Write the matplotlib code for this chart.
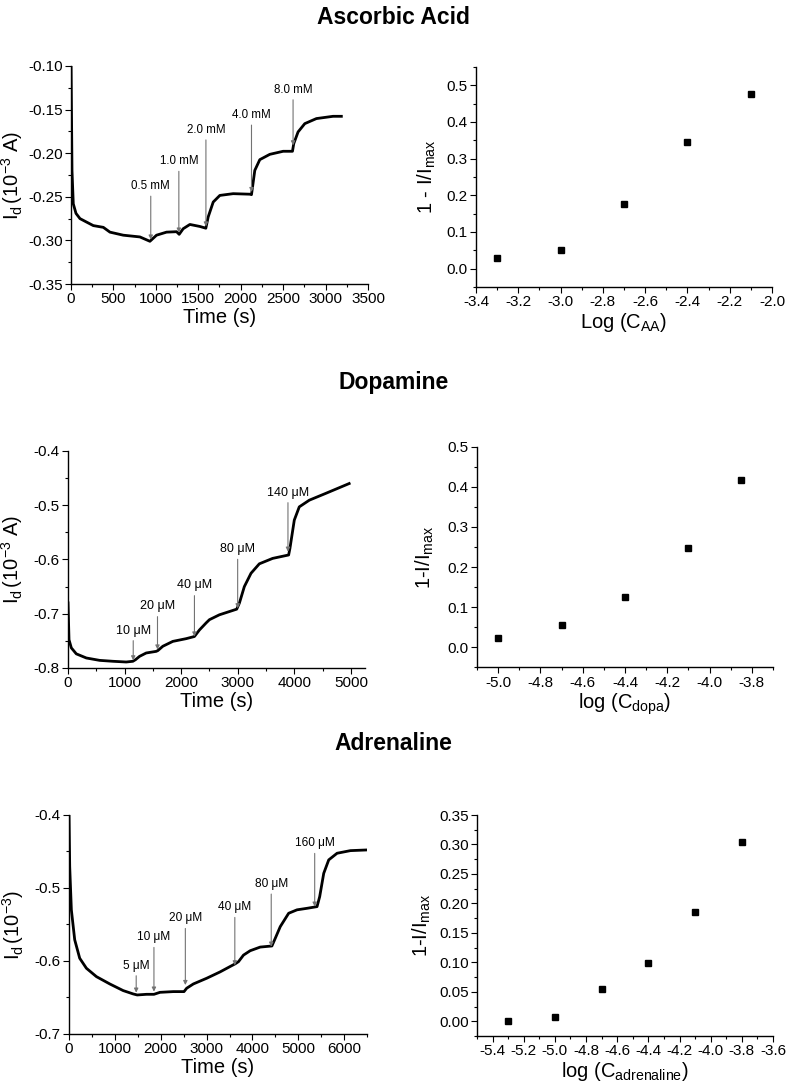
import matplotlib
matplotlib.use("Agg")
import matplotlib.pyplot as plt
from matplotlib.ticker import MultipleLocator, FormatStrFormatter

plt.rcParams["font.family"] = ["Liberation Sans", "DejaVu Sans"]
plt.rcParams["mathtext.fontset"] = "custom"
plt.rcParams["mathtext.rm"] = "Liberation Sans"
plt.rcParams["mathtext.it"] = "Liberation Sans:italic"

# --- Ascorbic acid: chronoamperometry trace ---
aa_time = [0, 12, 27, 59, 106, 184, 263, 381, 459, 616, 812, 930, 1008, 1126, 1244,
           1275, 1322, 1401, 1519, 1589, 1617, 1676, 1754, 1911, 2107, 2127, 2166,
           2225, 2343, 2500, 2610, 2625, 2676, 2755, 2892, 3088, 3186]
aa_current = [-0.09, -0.220, -0.258, -0.269, -0.275, -0.279, -0.283, -0.285, -0.2905,
              -0.294, -0.296, -0.301, -0.294, -0.2905, -0.290, -0.293, -0.2866, -0.2817,
              -0.284, -0.286, -0.273, -0.256, -0.2484, -0.2464, -0.247, -0.2475, -0.2197,
              -0.2074, -0.2013, -0.1978, -0.1978, -0.189, -0.1756, -0.1661, -0.1603,
              -0.1577, -0.1577]
aa_add_labels = ["0.5 mM", "1.0 mM", "2.0 mM", "4.0 mM", "8.0 mM"]
aa_add_time = [940, 1271, 1590, 2127, 2617]
aa_add_top = [-0.2445, -0.216, -0.180, -0.163, -0.134]
aa_add_tip = [-0.299, -0.291, -0.284, -0.2445, -0.191]

# --- Ascorbic acid: response vs log concentration ---
aa_logc = [-3.3, -3.0, -2.7, -2.4, -2.1]
aa_resp = [0.030, 0.050, 0.176, 0.344, 0.476]

# --- Dopamine ---
da_time = [0, 18, 59, 147, 324, 559, 794, 1029, 1147, 1194, 1265, 1382, 1559, 1588,
           1676, 1853, 2088, 2235, 2323, 2441, 2500, 2676, 2853, 2982, 3029, 3117,
           3235, 3382, 3617, 3900, 3923, 4000, 4088, 4265, 4559, 4970]
da_current = [-0.68, -0.748, -0.763, -0.774, -0.7816, -0.786, -0.7877, -0.789, -0.7877,
              -0.7847, -0.7786, -0.7724, -0.7694, -0.768, -0.760, -0.751, -0.746, -0.742,
              -0.730, -0.717, -0.711, -0.702, -0.696, -0.6916, -0.6806, -0.650, -0.6254,
              -0.608, -0.598, -0.5917, -0.5795, -0.5274, -0.503, -0.4907, -0.478, -0.460]
da_add_labels = ["10 μM", "20 μM", "40 μM", "80 μM", "140 μM"]
da_add_time = [1153, 1582, 2235, 2999, 3888]
da_add_top = [-0.742, -0.6977, -0.659, -0.592, -0.4876]
da_add_tip = [-0.786, -0.766, -0.742, -0.690, -0.5856]

da_logc = [-5.0, -4.7, -4.4, -4.1, -3.85]
da_resp = [0.022, 0.055, 0.126, 0.248, 0.416]

# --- Adrenaline ---
ad_time = [0, 15, 51, 124, 233, 379, 598, 889, 1181, 1400, 1487, 1691, 1852, 1983,
           2274, 2508, 2566, 2712, 3003, 3295, 3550, 3623, 3696, 3805, 3951, 4170,
           4425, 4498, 4607, 4790, 4972, 5191, 5409, 5467, 5555, 5664, 5846, 6138, 6488]
ad_current = [-0.40, -0.4708, -0.530, -0.571, -0.5963, -0.610, -0.6215, -0.6315,
              -0.6406, -0.6452, -0.6466, -0.6457, -0.6457, -0.643, -0.642, -0.642,
              -0.6374, -0.6315, -0.6237, -0.615, -0.6064, -0.604, -0.601, -0.592,
              -0.586, -0.581, -0.5795, -0.569, -0.553, -0.5347, -0.530, -0.5279,
              -0.5256, -0.5119, -0.480, -0.4616, -0.4525, -0.4489, -0.448]
ad_add_labels = ["5 μM", "10 μM", "20 μM", "40 μM", "80 μM", "160 μM"]
ad_add_time = [1465, 1852, 2537, 3616, 4410, 5358]
ad_add_top = [-0.6146, -0.5758, -0.5498, -0.5347, -0.5027, -0.447]
ad_add_tip = [-0.6434, -0.642, -0.633, -0.606, -0.5804, -0.5256]

ad_logc = [-5.3, -5.0, -4.7, -4.4, -4.1, -3.8]
ad_resp = [0.001, 0.008, 0.055, 0.099, 0.185, 0.304]

LABEL_FS = 14.5
TICK_FS = 11


def style_axes(ax, xmajor, xminor, ymajor, yminor):
    ax.spines["top"].set_visible(False)
    ax.spines["right"].set_visible(False)
    for s in ("left", "bottom"):
        ax.spines[s].set_linewidth(1.0)
    ax.xaxis.set_major_locator(MultipleLocator(xmajor))
    ax.xaxis.set_minor_locator(MultipleLocator(xminor))
    ax.yaxis.set_major_locator(MultipleLocator(ymajor))
    ax.yaxis.set_minor_locator(MultipleLocator(yminor))
    ax.tick_params(which="major", direction="out", length=4, width=0.8,
                   labelsize=TICK_FS, pad=2)
    ax.tick_params(which="minor", direction="out", length=2, width=0.8)


def time_panel(ax, t, cur, labels, add_t, add_top, add_tip, fs):
    ax.plot(t, cur, color="black", lw=2.0)
    for lab, x, y0, y1 in zip(labels, add_t, add_top, add_tip):
        ax.annotate(lab, xy=(x, y1), xytext=(x, y0), ha="center", va="bottom",
                    fontsize=fs,
                    arrowprops=dict(arrowstyle="-|>", color="0.45", lw=0.8,
                                    mutation_scale=6, shrinkA=1, shrinkB=0))
    ax.set_xlabel("Time (s)", fontsize=LABEL_FS, labelpad=1)


fig = plt.figure(figsize=(7.87, 10.87), dpi=100)

# Ascorbic acid
ax1 = fig.add_axes([0.0902, 0.7387, 0.3774, 0.2006])
time_panel(ax1, aa_time, aa_current, aa_add_labels, aa_add_time, aa_add_top, aa_add_tip, 8.3)
ax1.set_xlim(0, 3500)
ax1.set_ylim(-0.35, -0.10)
style_axes(ax1, 500, 250, 0.05, 0.025)
ax1.yaxis.set_major_formatter(FormatStrFormatter("%.2f"))
ax1.set_ylabel(r"$\mathregular{I_d\,(10^{-3}\ A)}$", fontsize=LABEL_FS, labelpad=2)

ax2 = fig.add_axes([0.6048, 0.7360, 0.3761, 0.2024])
ax2.plot(aa_logc, aa_resp, "s", color="black", ms=4.5)
ax2.set_xlim(-3.4, -2.0)
ax2.set_ylim(-0.05, 0.55)
style_axes(ax2, 0.2, 0.1, 0.1, 0.05)
ax2.set_yticks([0.0, 0.1, 0.2, 0.3, 0.4, 0.5])
ax2.xaxis.set_major_formatter(FormatStrFormatter("%.1f"))
ax2.set_xlabel(r"Log (C$_\mathregular{AA}$)", fontsize=LABEL_FS, labelpad=1)
ax2.set_ylabel(r"1 - I/I$_\mathregular{max}$", fontsize=LABEL_FS, labelpad=6)

# Dopamine
ax3 = fig.add_axes([0.0864, 0.3855, 0.3774, 0.1996])
time_panel(ax3, da_time, da_current, da_add_labels, da_add_time, da_add_top, da_add_tip, 9)
ax3.set_xlim(0, 5250)
ax3.set_ylim(-0.8, -0.4)
style_axes(ax3, 1000, 500, 0.1, 0.05)
ax3.yaxis.set_major_formatter(FormatStrFormatter("%.1f"))
ax3.set_ylabel(r"$\mathregular{I_d\,(10^{-3}\ A)}$", fontsize=LABEL_FS, labelpad=6)

ax4 = fig.add_axes([0.6061, 0.3861, 0.3761, 0.2029])
ax4.plot(da_logc, da_resp, "s", color="black", ms=4.5)
ax4.set_xlim(-5.1, -3.7)
ax4.set_ylim(-0.05, 0.5)
style_axes(ax4, 0.2, 0.1, 0.1, 0.05)
ax4.set_xticks([-5.0, -4.8, -4.6, -4.4, -4.2, -4.0, -3.8])
ax4.xaxis.set_major_formatter(FormatStrFormatter("%.1f"))
ax4.set_xlabel(r"log (C$_\mathregular{dopa}$)", fontsize=LABEL_FS, labelpad=1)
ax4.set_ylabel(r"1-I/I$_\mathregular{max}$", fontsize=LABEL_FS, labelpad=8)

# Adrenaline
ax5 = fig.add_axes([0.0877, 0.0488, 0.3787, 0.2015])
time_panel(ax5, ad_time, ad_current, ad_add_labels, ad_add_time, ad_add_top, ad_add_tip, 8.6)
ax5.set_xlim(0, 6500)
ax5.set_ylim(-0.7, -0.4)
style_axes(ax5, 1000, 500, 0.1, 0.05)
ax5.yaxis.set_major_formatter(FormatStrFormatter("%.1f"))
ax5.set_ylabel(r"$\mathregular{I_d\,(10^{-3})}$", fontsize=LABEL_FS, labelpad=6)

ax6 = fig.add_axes([0.6061, 0.0469, 0.3761, 0.2033])
ax6.plot(ad_logc, ad_resp, "s", color="black", ms=4.5)
ax6.set_xlim(-5.5, -3.6)
ax6.set_ylim(-0.025, 0.35)
style_axes(ax6, 0.2, 0.1, 0.05, 0.025)
ax6.set_xticks([-5.4, -5.2, -5.0, -4.8, -4.6, -4.4, -4.2, -4.0, -3.8, -3.6])
ax6.xaxis.set_major_formatter(FormatStrFormatter("%.1f"))
ax6.yaxis.set_major_formatter(FormatStrFormatter("%.2f"))
ax6.set_xlabel(r"log (C$_\mathregular{adrenaline}$)", fontsize=LABEL_FS, labelpad=1)
ax6.set_ylabel(r"1-I/I$_\mathregular{max}$", fontsize=LABEL_FS, labelpad=4)

# section titles
fig.text(0.5, 1 - 18 / 1087, "Ascorbic Acid", ha="center", va="center",
         fontsize=16.5, fontweight="bold")
fig.text(0.5, 1 - 383 / 1087, "Dopamine", ha="center", va="center",
         fontsize=16.5, fontweight="bold")
fig.text(0.5, 1 - 743 / 1087, "Adrenaline", ha="center", va="center",
         fontsize=16.5, fontweight="bold")

fig.savefig("out.png", dpi=100)
